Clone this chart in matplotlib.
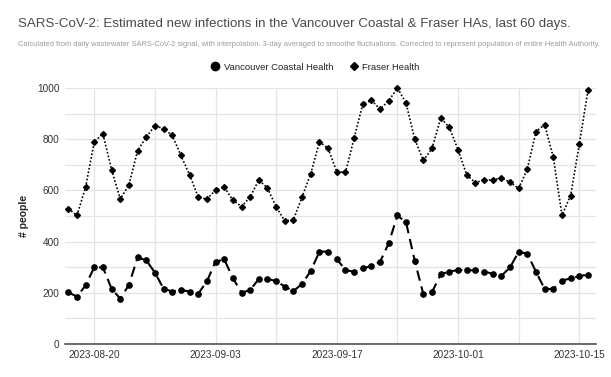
import numpy as np
import pandas as pd
import matplotlib
matplotlib.use("Agg")
import matplotlib.pyplot as plt
import matplotlib.dates as mdates
from matplotlib.lines import Line2D

plt.rcParams["font.family"] = ["Liberation Sans", "DejaVu Sans"]

# ── Data ──────────────────────────────────────────────────────────────────────
dates = pd.date_range("2023-08-17", "2023-10-16", freq="D")

vch = [202, 185, 229, 300, 299, 216, 177, 231, 338, 327,
       279, 216, 205, 211, 205, 196, 245, 321, 331, 258,
       200, 211, 254, 254, 246, 224, 207, 235, 286, 361,
       361, 332, 289, 282, 295, 305, 321, 394, 502, 475,
       325, 194, 203, 272, 283, 289, 288, 288, 282, 275,
       266, 299, 360, 353, 282, 215, 215, 248, 256, 265, 271]

fraser = [529, 502, 613, 790, 821, 681, 566, 621, 755, 808,
          853, 841, 815, 737, 661, 574, 566, 601, 613, 562,
          537, 574, 641, 609, 536, 480, 486, 575, 666, 790,
          764, 673, 670, 804, 937, 952, 917, 950, 1000, 941,
          800, 717, 764, 883, 846, 759, 661, 630, 641, 641,
          649, 632, 608, 683, 830, 857, 730, 503, 580, 780, 991]

series_names = ["Vancouver Coastal Health", "Fraser Health"]
label_dates = ["2023-08-20", "2023-09-03", "2023-09-17", "2023-10-01", "2023-10-15"]
y_ticks = [0, 200, 400, 600, 800, 1000]

title = "SARS-CoV-2: Estimated new infections in the Vancouver Coastal & Fraser HAs, last 60 days."
subtitle = ("Calculated from daily wastewater SARS-CoV-2 signal, with interpolation. "
            "3-day averaged to smoothe fluctuations. Corrected to represent population "
            "of entire Health Authority.")

W, H = 611, 377
fig = plt.figure(figsize=(W / 100, H / 100), dpi=100)
ax = fig.add_axes([65 / W, (H - 344) / H, (596 - 65) / W, 256 / H])

x = mdates.date2num(dates)

ax.plot(x, fraser, color="black", lw=1.2, linestyle=(0, (1, 1.2)),
        marker="D", markersize=3.0, clip_on=False, zorder=3)
ax.plot(x, vch, color="black", lw=1.5, linestyle=(0, (5, 2.8)),
        marker="o", markersize=3.8, clip_on=False, zorder=3)

# axes limits and ticks
x0 = mdates.date2num(pd.Timestamp("2023-08-20"))
ax.set_xlim(x0 - 3.38, x0 + 57.93)
ax.set_ylim(0, 1000)

major = mdates.date2num(pd.to_datetime(label_dates))
minor = [m + 7 for m in major[:-1]]
ax.set_xticks(major)
ax.set_xticklabels(label_dates)
ax.set_xticks(minor, minor=True)
ax.set_yticks(y_ticks)
ax.set_yticks([v + 100 for v in y_ticks[:-1]], minor=True)

ax.grid(True, which="both", color="#e4e4e4", lw=0.9)
ax.set_axisbelow(True)
ax.tick_params(which="both", length=0, labelsize=7.2, colors="#333333")
ax.tick_params(axis="x", pad=4)
ax.tick_params(axis="y", pad=4)

for s in ["top", "right", "left"]:
    ax.spines[s].set_visible(False)
ax.spines["bottom"].set_color("#444444")
ax.spines["bottom"].set_linewidth(1.1)

ax.set_ylabel("# people", fontsize=7.5, fontweight="bold", color="#222222", labelpad=6)

# title, subtitle
fig.text(18 / W, 1 - 24 / H, title, fontsize=9.6, color="#4a4a4a", va="center", ha="left")
fig.text(18 / W, 1 - 44 / H, subtitle, fontsize=5.45, color="#9a9a9a", va="center", ha="left")

# legend
handles = [Line2D([], [], color="black", marker="o", linestyle="none", markersize=6),
           Line2D([], [], color="black", marker="D", linestyle="none", markersize=4.5)]
fig.legend(handles, series_names, loc="center", bbox_to_anchor=(0.515, 1 - 67 / H),
           ncol=2, frameon=False, fontsize=6.8, handletextpad=0.3, columnspacing=1.6,
           handlelength=1.2, labelcolor="#222222")

fig.savefig("out.png", dpi=100)
